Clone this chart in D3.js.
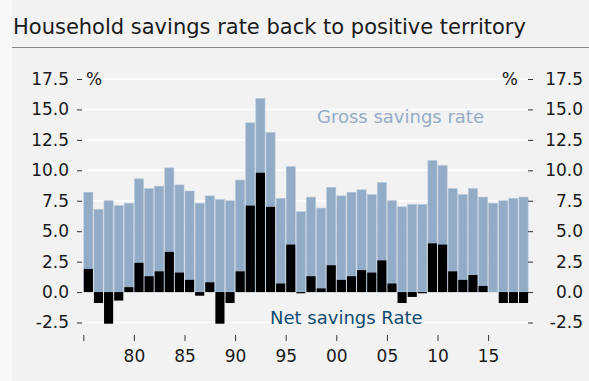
<!DOCTYPE html>
<html>
<head>
<meta charset="UTF-8" />
<title>Household savings rate</title>
<script src="https://d3js.org/d3.v7.min.js"></script>
<style>
  body { margin: 0; background: #f8f8f8; }
  svg { display: block; }
  text { font-family: "DejaVu Sans", sans-serif; fill: #1a1a1a; }
  .axis .domain { display: none; }
  .axis line { stroke: #333; }
  .axis text { font-size: 17px; }
</style>
</head>
<body>
<div id="chart"></div>
<script>
// years shown on the chart (one bar per year)
var years = [1975, 1976, 1977, 1978, 1979, 1980, 1981, 1982, 1983, 1984,
             1985, 1986, 1987, 1988, 1989, 1990, 1991, 1992, 1993, 1994,
             1995, 1996, 1997, 1998, 1999, 2000, 2001, 2002, 2003, 2004,
             2005, 2006, 2007, 2008, 2009, 2010, 2011, 2012, 2013, 2014,
             2015, 2016, 2017, 2018];

// gross savings rate, %
var gross = [8.2, 6.8, 7.5, 7.1, 7.3, 9.3, 8.5, 8.7, 10.2, 8.8,
             8.3, 7.3, 7.9, 7.6, 7.5, 9.2, 13.9, 15.9, 13.1, 7.7,
             10.3, 6.6, 7.8, 6.9, 8.6, 7.9, 8.2, 8.4, 8.0, 9.0,
             7.5, 7.0, 7.2, 7.2, 10.8, 10.4, 8.5, 8.0, 8.5, 7.8,
             7.3, 7.5, 7.7, 7.8];

// net savings rate, %
var net = [1.9, -0.9, -2.6, -0.7, 0.4, 2.4, 1.3, 1.7, 3.3, 1.6,
           1.0, -0.3, 0.8, -2.6, -0.9, 1.7, 7.1, 9.8, 7.0, 0.7,
           3.9, -0.1, 1.3, 0.3, 2.2, 1.0, 1.3, 1.8, 1.6, 2.6,
           0.7, -0.9, -0.4, -0.1, 4.0, 3.9, 1.7, 1.0, 1.4, 0.5,
           0.0, -0.9, -0.9, -0.9];

var yTicks = [-2.5, 0, 2.5, 5, 7.5, 10, 12.5, 15, 17.5];
var xTicks = [1975, 1980, 1985, 1990, 1995, 2000, 2005, 2010, 2015];
var xTickLabels = ["", "80", "85", "90", "95", "00", "05", "10", "15"];

var W = 589, H = 381;

var svg = d3.select("#chart").append("svg")
    .attr("width", W)
    .attr("height", H);

// panel background
svg.append("rect")
    .attr("x", 12).attr("y", 0)
    .attr("width", W - 12).attr("height", H)
    .attr("fill", "#f2f2f2");

// title and rule
svg.append("text")
    .attr("x", 13)
    .attr("y", 34)
    .style("font-size", "21px")
    .text("Household savings rate back to positive territory");

svg.append("line")
    .attr("x1", 12).attr("x2", W)
    .attr("y1", 47.5).attr("y2", 47.5)
    .attr("stroke", "#8a8a8a")
    .attr("stroke-width", 1);

// scales
var x = d3.scaleLinear().domain([1975, 2019]).range([83.3, 528.6]);
var y = d3.scaleLinear().domain([-2.5, 17.5]).range([322.5, 79]);

// gridlines
svg.append("g").selectAll("line")
    .data(yTicks).enter()
    .append("line")
    .attr("x1", x(1975)).attr("x2", x(2019) - 1)
    .attr("y1", function(d) { return y(d); })
    .attr("y2", function(d) { return y(d); })
    .attr("stroke", "#ffffff")
    .attr("stroke-width", 1.5);

var data = years.map(function(yr, i) {
  return { year: yr, gross: gross[i], net: net[i] };
});

// gross bars
svg.append("g").selectAll("rect")
    .data(data).enter()
    .append("rect")
    .attr("x", function(d) { return x(d.year) + 0.5; })
    .attr("width", function(d) { return x(d.year + 1) - x(d.year) - 1; })
    .attr("y", function(d) { return y(Math.max(0, d.gross)); })
    .attr("height", function(d) { return Math.abs(y(d.gross) - y(0)); })
    .attr("fill", "#92abc6")
    .attr("stroke", "#b4c6d9")
    .attr("stroke-width", 0.6);

// net bars
svg.append("g").selectAll("rect")
    .data(data).enter()
    .append("rect")
    .attr("x", function(d) { return x(d.year) + 0.5; })
    .attr("width", function(d) { return x(d.year + 1) - x(d.year) - 1; })
    .attr("y", function(d) { return y(Math.max(0, d.net)); })
    .attr("height", function(d) { return Math.abs(y(d.net) - y(0)); })
    .attr("fill", "#000000");

// axes
var fmt = function(d) { return d.toFixed(1); };

svg.append("g")
    .attr("class", "axis")
    .attr("transform", "translate(82,0)")
    .call(d3.axisLeft(y).tickValues(yTicks).tickSize(5).tickPadding(8).tickFormat(fmt));

var right = svg.append("g")
    .attr("class", "axis")
    .attr("transform", "translate(528,0)")
    .call(d3.axisRight(y).tickValues(yTicks).tickSize(5).tickFormat(fmt));
right.selectAll("text")
    .attr("x", 55)
    .style("text-anchor", "end");

svg.append("g")
    .attr("class", "axis")
    .attr("transform", "translate(0,335)")
    .call(d3.axisBottom(x).tickValues(xTicks).tickSize(6).tickPadding(9)
      .tickFormat(function(d, i) { return xTickLabels[i]; }));

// unit labels
svg.append("text")
    .attr("x", 86).attr("y", y(17.5))
    .attr("dy", "0.36em")
    .style("font-size", "17px")
    .text("%");

svg.append("text")
    .attr("x", 518).attr("y", y(17.5))
    .attr("dy", "0.36em")
    .style("font-size", "17px")
    .style("text-anchor", "end")
    .text("%");

// series labels
svg.append("text")
    .attr("x", 317).attr("y", 123)
    .style("font-size", "18px")
    .style("fill", "#93adc8")
    .text("Gross savings rate");

svg.append("text")
    .attr("x", 270).attr("y", 324)
    .style("font-size", "18px")
    .style("fill", "#0f4b70")
    .text("Net savings Rate");
</script>
</body>
</html>
